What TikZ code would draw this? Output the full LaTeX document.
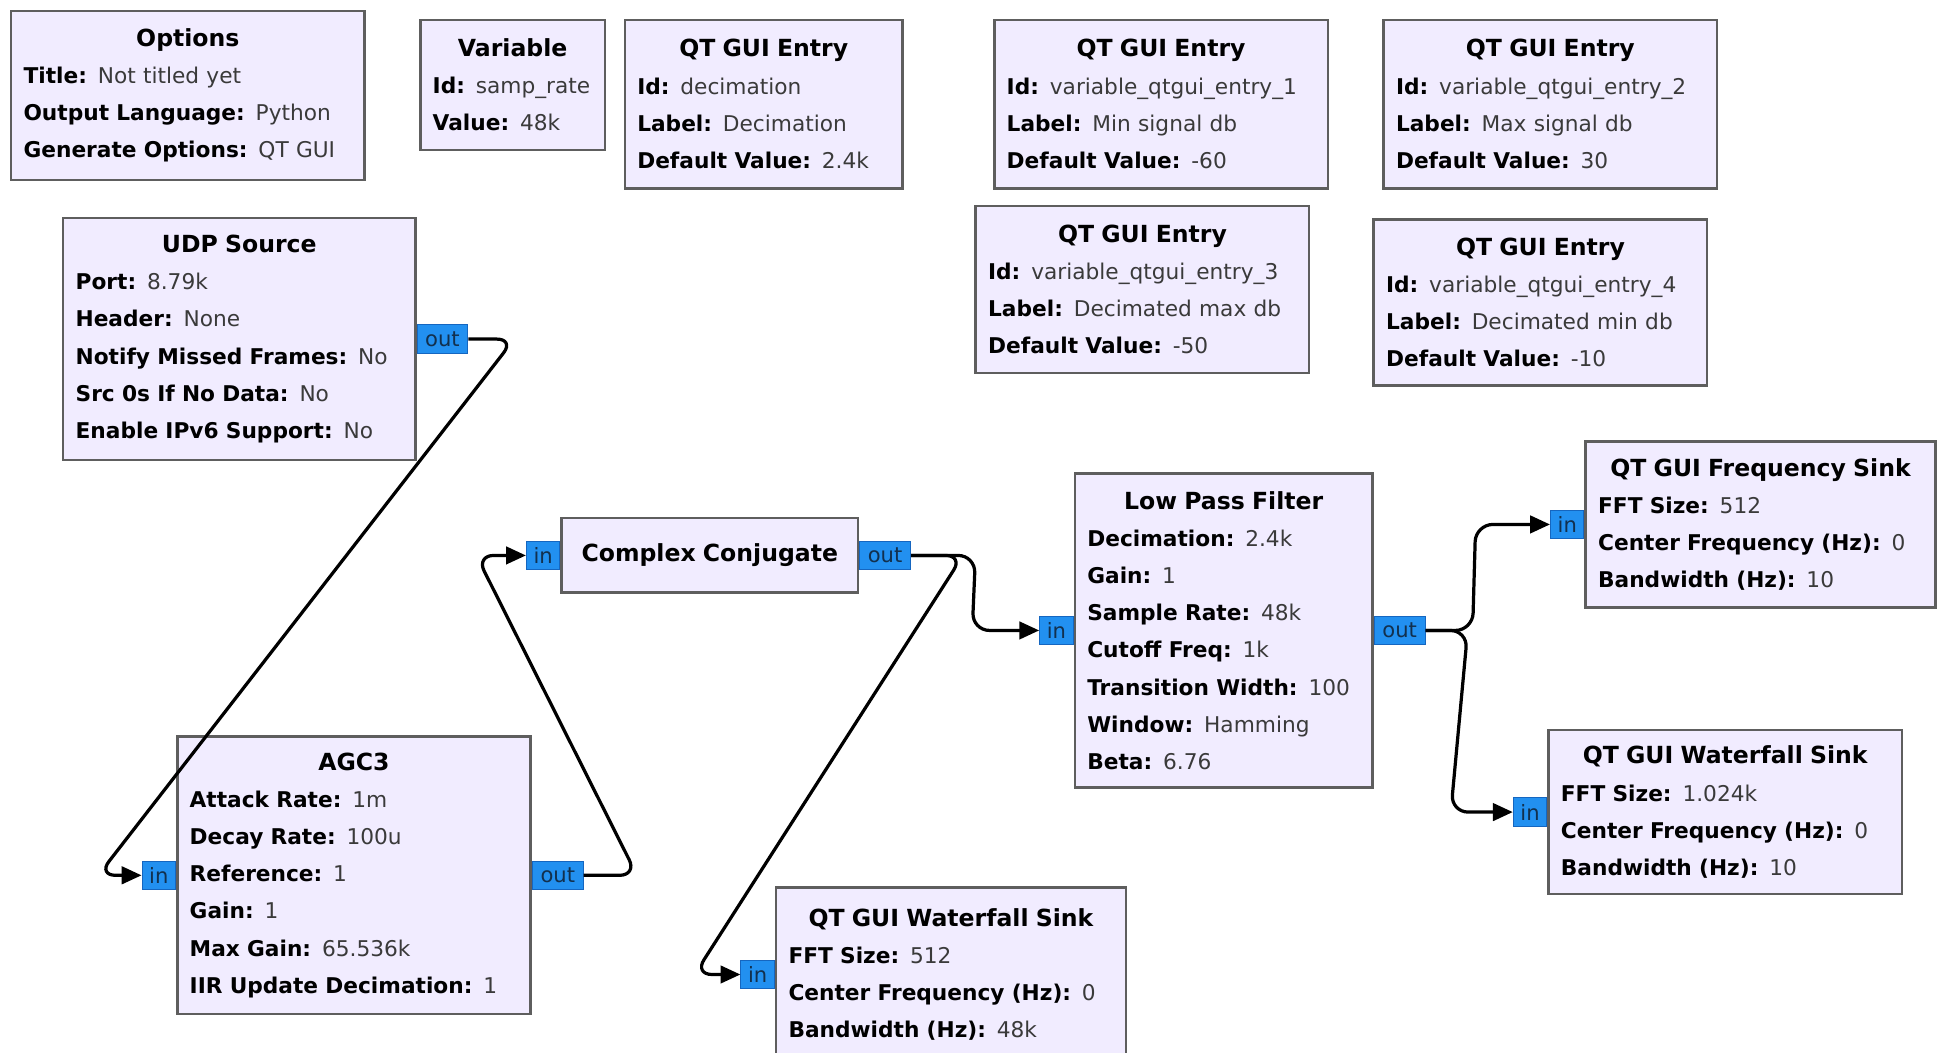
\documentclass[tikz,border=0pt]{standalone}
\usepackage{fontspec, xcolor}
\usetikzlibrary{arrows.meta}
\setmainfont{DejaVu Sans}

\definecolor{boxfill}{HTML}{F1ECFF}
\definecolor{boxline}{HTML}{5E5E5E}
\definecolor{portfill}{HTML}{2290F0}
\definecolor{portline}{HTML}{1566C0}
\definecolor{portfg}{HTML}{12304E}
\definecolor{valcol}{HTML}{3A3A3A}

\newcommand{\btitle}[1]{\null\hfill{\fontsize{19}{30}\selectfont\bfseries #1}\hfill\null}
\newcommand{\kv}[2]{\mbox{\textbf{#1:} \color{valcol}#2}}

\tikzset{
    blk/.style={draw=boxline, fill=boxfill, line width=2pt, inner xsep=10pt, inner ysep=0pt,
        anchor=north west, align=left, font=\fontsize{17.5}{30}\selectfont},
    port/.style={draw=portline, fill=portfill, line width=0.8pt, inner sep=0pt,
        minimum height=23pt, text=portfg, font=\fontsize{17}{17}\selectfont},
    inport/.style={port, minimum width=27pt, anchor=east},
    outport/.style={port, minimum width=41pt, anchor=west},
    wire/.style={line width=2.6pt, rounded corners=14pt},
    wirehead/.style={wire, -{Triangle[length=16pt,width=14pt]}}
}

\begin{document}
\begin{tikzpicture}[x=1pt, y=-1pt]
    \useasboundingbox (0,0) rectangle (1568,849);

    \node [blk, text width=265pt, minimum height=136pt] (opts) at (8,8)
        {\btitle{Options}\\ \kv{Title}{Not titled yet}\\ \kv{Output Language}{Python}\\ \kv{Generate Options}{QT GUI}};
    \node [blk, text width=129pt, minimum height=105pt] (samprate) at (338,15)
        {\btitle{Variable}\\ \kv{Id}{samp\_rate}\\ \kv{Value}{48k}};
    \node [blk, text width=204pt, minimum height=136pt] (entdec) at (503,15)
        {\btitle{QT GUI Entry}\\ \kv{Id}{decimation}\\ \kv{Label}{Decimation}\\ \kv{Default Value}{2.4k}};
    \node [blk, text width=249pt, minimum height=136pt] (entone) at (801,15)
        {\btitle{QT GUI Entry}\\ \kv{Id}{variable\_qtgui\_entry\_1}\\ \kv{Label}{Min signal db}\\ \kv{Default Value}{-60}};
    \node [blk, text width=249pt, minimum height=136pt] (enttwo) at (1115,15)
        {\btitle{QT GUI Entry}\\ \kv{Id}{variable\_qtgui\_entry\_2}\\ \kv{Label}{Max signal db}\\ \kv{Default Value}{30}};
    \node [blk, text width=249pt, minimum height=135pt] (entthree) at (786,165)
        {\btitle{QT GUI Entry}\\ \kv{Id}{variable\_qtgui\_entry\_3}\\ \kv{Label}{Decimated max db}\\ \kv{Default Value}{-50}};
    \node [blk, text width=249pt, minimum height=134pt] (entfour) at (1107,176)
        {\btitle{QT GUI Entry}\\ \kv{Id}{variable\_qtgui\_entry\_4}\\ \kv{Label}{Decimated min db}\\ \kv{Default Value}{-10}};

    \node [blk, text width=264pt, minimum height=195pt] (udp) at (50,175)
        {\btitle{UDP Source}\\ \kv{Port}{8.79k}\\ \kv{Header}{None}\\ \kv{Notify Missed Frames}{No}\\ \kv{Src 0s If No Data}{No}\\ \kv{Enable IPv6 Support}{No}};
    \node [blk, text width=265pt, minimum height=224pt] (agc) at (142,593)
        {\btitle{AGC3}\\ \kv{Attack Rate}{1m}\\ \kv{Decay Rate}{100u}\\ \kv{Reference}{1}\\ \kv{Gain}{1}\\ \kv{Max Gain}{65.536k}\\ \kv{IIR Update Decimation}{1}};
    \node [blk, text width=219pt, minimum height=60pt, align=center] (conj) at (452,417)
        {{\fontsize{19}{30}\selectfont\bfseries Complex Conjugate}};
    \node [blk, text width=220pt, minimum height=253pt] (lpf) at (866,381)
        {\btitle{Low Pass Filter}\\ \kv{Decimation}{2.4k}\\ \kv{Gain}{1}\\ \kv{Sample Rate}{48k}\\ \kv{Cutoff Freq}{1k}\\ \kv{Transition Width}{100}\\ \kv{Window}{Hamming}\\ \kv{Beta}{6.76}};
    \node [blk, text width=262pt, minimum height=134pt] (fsink) at (1278,355)
        {\btitle{QT GUI Frequency Sink}\\ \kv{FFT Size}{512}\\ \kv{Center Frequency (Hz)}{0}\\ \kv{Bandwidth (Hz)}{10}};
    \node [blk, text width=265pt, minimum height=132pt] (wfallr) at (1248,588)
        {\btitle{QT GUI Waterfall Sink}\\ \kv{FFT Size}{1.024k}\\ \kv{Center Frequency (Hz)}{0}\\ \kv{Bandwidth (Hz)}{10}};
    \node [blk, text width=262pt, minimum height=140pt] (wfallb) at (625,715)
        {\btitle{QT GUI Waterfall Sink}\\ \kv{FFT Size}{512}\\ \kv{Center Frequency (Hz)}{0}\\ \kv{Bandwidth (Hz)}{48k}};

    \node [outport] (udp-out) at (udp.east) {out};
    \node [inport] (agc-in) at (agc.west) {in};
    \node [outport] (agc-out) at (agc.east) {out};
    \node [inport] (conj-in) at (conj.west) {in};
    \node [outport] (conj-out) at (conj.east) {out};
    \node [inport] (lpf-in) at (lpf.west) {in};
    \node [outport] (lpf-out) at (lpf.east) {out};
    \node [inport] (fsink-in) at (fsink.west) {in};
    \node [inport] (wfallr-in) at (wfallr.west) {in};
    \node [inport] (wfallb-in) at (wfallb.west) {in};

    \draw [wirehead] (udp-out.east) -- ++(37,0) -- ([xshift=-35pt]agc-in.west) -- (agc-in.west);
    \draw [wirehead] (agc-out.east) -- ++(43,0) -- ([xshift=-40pt]conj-in.west) -- (conj-in.west);
    \draw [wirehead] (conj-out.east) -- ++(52,0) -- ([xshift=-54pt]lpf-in.west) -- (lpf-in.west);
    \draw [wirehead] (conj-out.east) -- ++(42,0) -- ([xshift=-37pt]wfallb-in.west) -- (wfallb-in.west);
    \draw [wirehead] (lpf-out.east) -- ++(38,0) -- ([xshift=-60pt]fsink-in.west) -- (fsink-in.west);
    \draw [wirehead] (lpf-out.east) -- ++(34,0) -- ([xshift=-50pt]wfallr-in.west) -- (wfallr-in.west);
\end{tikzpicture}
\end{document}
